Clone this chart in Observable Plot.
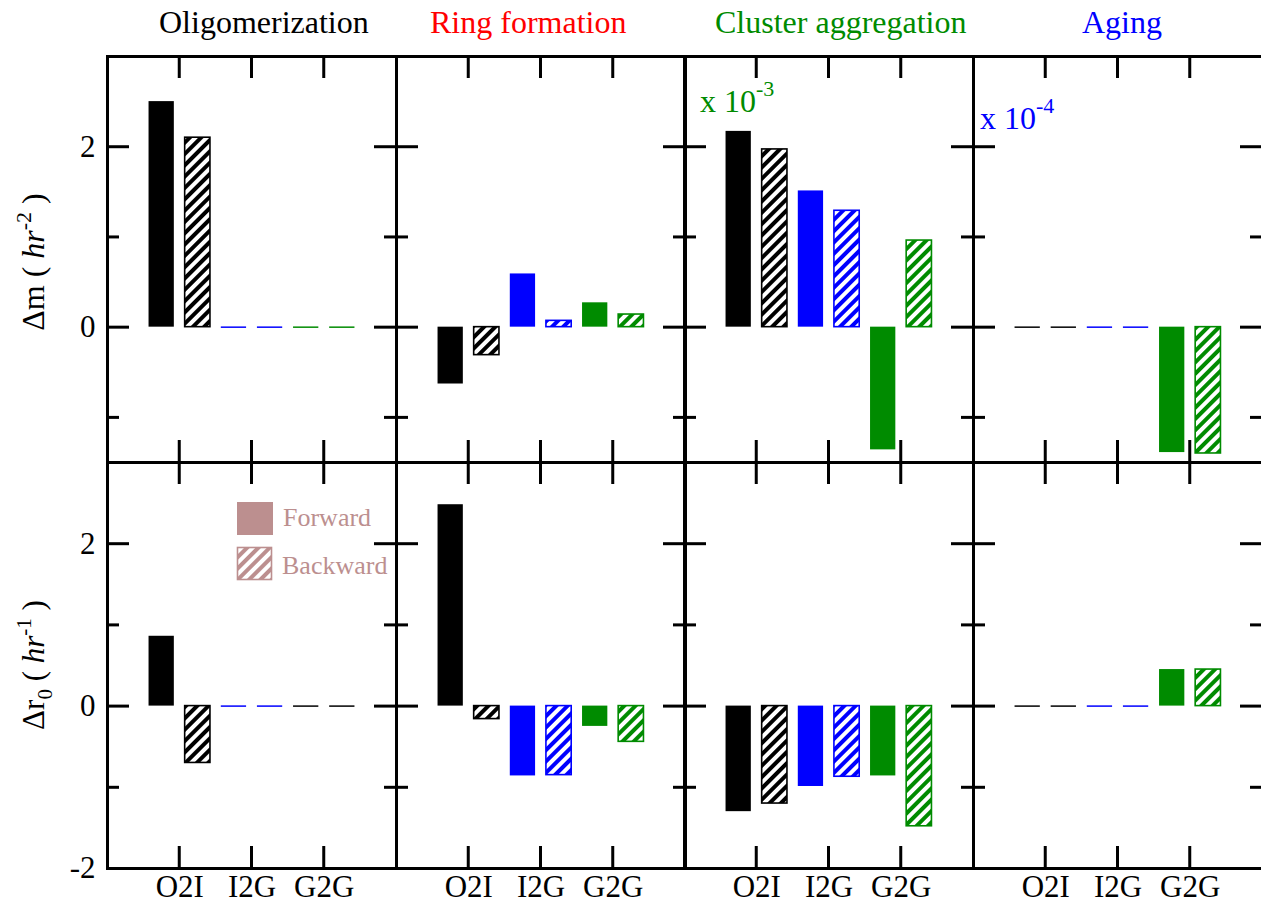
<!DOCTYPE html>
<html><head><meta charset="utf-8">
<script src="https://cdn.jsdelivr.net/npm/d3@7"></script>
<script src="https://cdn.jsdelivr.net/npm/@observablehq/plot@0.6"></script>
<style>
html,body{margin:0;padding:0;background:#fff;}
#chart{position:relative;width:1261px;height:906px;overflow:hidden;font-family:"Liberation Serif",serif;}
.panel{position:absolute;}
.panel svg{max-width:none;}
#overlay{position:absolute;left:0;top:0;pointer-events:none;white-space:pre;}
</style></head><body>
<div id="chart"></div>
<script>
// ---------- data ----------
const processes = ["Oligomerization", "Ring formation", "Cluster aggregation", "Aging"];
const processColors = ["black", "#ff0000", "#008b00", "#0000ff"];
const categories = ["O2I", "I2G", "G2G"];
const categoryPositions = [1, 2, 3];
const categoryColors = ["black", "#0000ff", "#008b00"];
const directions = ["Forward", "Backward"];

// Δm (hr^-2), per process: [O2I, I2G, G2G]
const dmForward  = [[2.50, 0, 0], [-0.63, 0.59, 0.27], [2.17, 1.51, -1.36], [0, 0, -1.39]];
const dmBackward = [[2.10, 0, 0], [-0.31, 0.07, 0.14], [1.97, 1.29, 0.96], [0, 0, -1.40]];
// Δr0 (hr^-1)
const dr0Forward  = [[0.86, 0, 0], [2.48, -0.86, -0.25], [-1.30, -0.99, -0.86], [0, 0, 0.45]];
const dr0Backward = [[-0.70, 0, 0], [-0.16, -0.85, -0.44], [-1.20, -0.87, -1.48], [0, 0, 0.45]];
// colours of the zero-length bars (drawn as dashes)
const dmZeroColors  = [categoryColors, categoryColors, categoryColors, categoryColors];
const dr0ZeroColors = [["black", "#0000ff", "black"], categoryColors, categoryColors, categoryColors];

const dmMajorTicks = [0, 2], dmMinorTicks = [-1, 1];
const dr0MajorTicks = [-2, 0, 2], dr0MinorTicks = [-1, 1];
const scaleNotes = [null, null, "-3", "-4"];
const legendColor = "#bc8f8f";

// ---------- layout ----------
const colLeft = [107, 396, 684, 973];
const rowTop = [56, 462];
const panelW = 289, panelH = 406;
const font = "Liberation Serif";

const chart = d3.select("#chart");
const hatchId = c => "hatch-" + c.replace(/[^a-z0-9]/gi, "");
const defs = chart.append("svg").attr("width", 0).attr("height", 0)
  .style("position", "absolute").append("defs");
for (const c of [...new Set([...categoryColors, legendColor])]) {
  const p = defs.append("pattern").attr("id", hatchId(c))
    .attr("patternUnits", "userSpaceOnUse").attr("width", 8).attr("height", 8)
    .attr("patternTransform", "rotate(45)");
  p.append("rect").attr("width", 8).attr("height", 8).attr("fill", "white");
  p.append("rect").attr("width", 4).attr("height", 8).attr("fill", c);
}

const rows = [
  {fwd: dmForward, bwd: dmBackward, zero: dmZeroColors, domain: [-1.5, 3], major: dmMajorTicks, minor: dmMinorTicks},
  {fwd: dr0Forward, bwd: dr0Backward, zero: dr0ZeroColors, domain: [-2, 3], major: dr0MajorTicks, minor: dr0MinorTicks}
];
const offset = {Forward: -0.25, Backward: 0.25};
const halfW = 0.175;
const majorLen = 22, minorLen = 12, tickW = 3;
const xDomain = [0, 4];

rows.forEach((row, r) => processes.forEach((proc, c) => {
  const bars = [];
  categories.forEach((cat, k) => {
    directions.forEach(dir => {
      const value = (dir === "Forward" ? row.fwd : row.bwd)[c][k];
      bars.push({cat, pos: categoryPositions[k], dir, value, color: categoryColors[k], zeroColor: row.zero[c][k]});
    });
  });
  const x1 = d => d.pos + offset[d.dir] - halfW;
  const x2 = d => d.pos + offset[d.dir] + halfW;
  const fwd = bars.filter(d => d.value !== 0 && d.dir === "Forward");
  const bwd = bars.filter(d => d.value !== 0 && d.dir === "Backward");
  const zeros = bars.filter(d => d.value === 0);
  const mL = c === 0 ? 107 : 3, mR = 3, mT = 3, mB = r === 1 ? 38 : 3;
  // tick pixel sizes expressed in this panel's data units
  const yPx = panelH / (row.domain[1] - row.domain[0]);
  const xPx = panelW / (xDomain[1] - xDomain[0]);
  const hw = tickW / 2 / xPx, len = majorLen / yPx;
  const [yMin, yMax] = row.domain;
  const marks = [
    Plot.rect(fwd, {x1, x2, y1: 0, y2: "value", fill: "color"}),
    Plot.rect(bwd, {x1, x2, y1: 0, y2: "value", fill: d => `url(#${hatchId(d.color)})`, stroke: "color", strokeWidth: 1.6}),
    Plot.ruleY(zeros, {y: "value", x1, x2, stroke: "zeroColor", strokeWidth: 1.5}),
    Plot.frame({strokeWidth: 3}),
    // inward x ticks at top and bottom edges
    Plot.rect(categoryPositions, {x1: d => d - hw, x2: d => d + hw, y1: () => yMax, y2: () => yMax - len, fill: "black"}),
    Plot.rect(categoryPositions, {x1: d => d - hw, x2: d => d + hw, y1: () => yMin, y2: () => yMin + len, fill: "black"}),
    // inward y ticks, left and right
    Plot.ruleY(row.major, {strokeWidth: 3, insetRight: panelW - majorLen}),
    Plot.ruleY(row.major, {strokeWidth: 3, insetLeft: panelW - majorLen}),
    Plot.ruleY(row.minor, {strokeWidth: 3, insetRight: panelW - minorLen}),
    Plot.ruleY(row.minor, {strokeWidth: 3, insetLeft: panelW - minorLen})
  ];
  if (c === 0) marks.push(Plot.axisY(row.major, {anchor: "left", tickSize: 0, tickPadding: 12, fontSize: 31, tickFormat: d => String(d), label: null}));
  else marks.push(Plot.axisY([], {anchor: "left", tickSize: 0, label: null}));
  if (r === 1) marks.push(Plot.axisX(categoryPositions, {anchor: "bottom", tickSize: 0, tickPadding: 6, fontSize: 31, tickFormat: d => categories[categoryPositions.indexOf(d)], label: null}));
  else marks.push(Plot.axisX([], {anchor: "bottom", tickSize: 0, label: null}));
  const plot = Plot.plot({
    width: panelW + mL + mR,
    height: panelH + mT + mB,
    marginLeft: mL, marginRight: mR, marginTop: mT, marginBottom: mB,
    x: {type: "linear", domain: xDomain},
    y: {domain: row.domain},
    color: {type: "identity"},
    style: {fontFamily: font, background: "transparent", overflow: "visible", maxWidth: "none", color: "black"},
    marks
  });
  chart.append("div").attr("class", "panel")
    .style("left", (colLeft[c] - mL) + "px").style("top", (rowTop[r] - mT) + "px")
    .node().appendChild(plot);
}));

// ---------- text overlay ----------
const ov = chart.append("svg").attr("id", "overlay").attr("width", 1261).attr("height", 906)
  .style("font-family", font);
const titleX = [159, 430, 715, 1082];
processes.forEach((p, i) => ov.append("text").attr("x", titleX[i]).attr("y", 33)
  .attr("font-size", 32).attr("fill", processColors[i]).text(p));

const noteX = [0, 0, 700, 980], noteY = [0, 0, 112, 129];
scaleNotes.forEach((e, i) => {
  if (!e) return;
  const t = ov.append("text").attr("x", noteX[i]).attr("y", noteY[i]).attr("font-size", 32).attr("fill", processColors[i]);
  t.append("tspan").text("x 10");
  t.append("tspan").attr("font-size", 22).attr("dy", -16).text(e);
});

const yl1 = ov.append("text").attr("transform", "translate(44,262) rotate(-90)").attr("text-anchor", "middle").attr("font-size", 32);
yl1.append("tspan").text("Δm (  ");
yl1.append("tspan").attr("font-style", "italic").text("hr");
yl1.append("tspan").attr("font-size", 22).attr("dy", -13).text("-2");
yl1.append("tspan").attr("dy", 13).text("  )");
const yl2 = ov.append("text").attr("transform", "translate(44,665) rotate(-90)").attr("text-anchor", "middle").attr("font-size", 31);
yl2.append("tspan").text("Δr");
yl2.append("tspan").attr("font-size", 21).attr("dy", 8).text("0");
yl2.append("tspan").attr("dy", -8).text(" ( ");
yl2.append("tspan").attr("font-style", "italic").text("hr");
yl2.append("tspan").attr("font-size", 21).attr("dy", -13).text("-1");
yl2.append("tspan").attr("dy", 13).text(" )");

ov.append("rect").attr("x", 237).attr("y", 502).attr("width", 36).attr("height", 33).attr("fill", legendColor);
ov.append("rect").attr("x", 237.5).attr("y", 547.5).attr("width", 34).attr("height", 32)
  .attr("fill", `url(#${hatchId(legendColor)})`).attr("stroke", legendColor).attr("stroke-width", 1.6);
ov.append("text").attr("x", 283).attr("y", 526).attr("font-size", 26).attr("fill", legendColor).text(directions[0]);
ov.append("text").attr("x", 282).attr("y", 574).attr("font-size", 26).attr("fill", legendColor).text(directions[1]);
</script>
</body></html>
